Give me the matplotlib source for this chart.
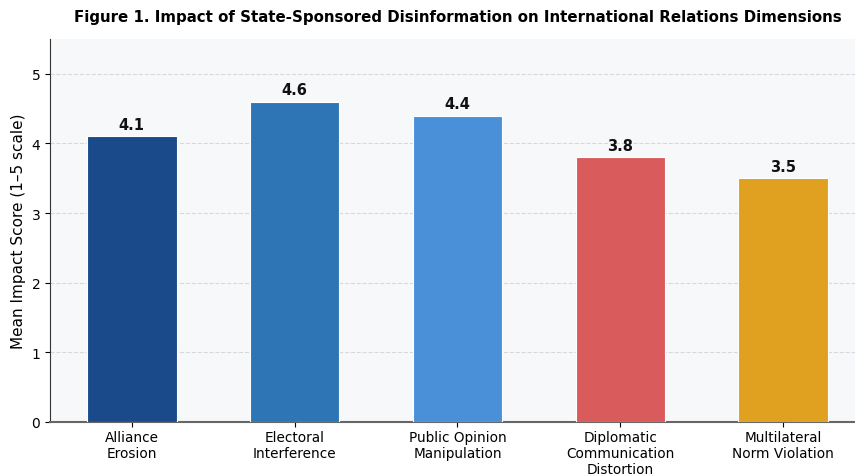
import matplotlib
matplotlib.use("Agg")
import matplotlib.pyplot as plt

categories = ["Alliance\nErosion", "Electoral\nInterference", "Public Opinion\nManipulation",
              "Diplomatic\nCommunication\nDistortion", "Multilateral\nNorm Violation"]
values = [4.1, 4.6, 4.4, 3.8, 3.5]
colors = ["#1a4a8a", "#2e75b6", "#4a90d9", "#d95b5b", "#e0a020"]
yticks = [0, 1, 2, 3, 4, 5]

W, H = 855, 477
fig = plt.figure(figsize=(W / 100, H / 100), dpi=100)
ax = fig.add_axes([50 / W, 1 - 423 / H, 815 / W, 383 / H])
ax.set_facecolor("#f7f8fa")

x = list(range(len(categories)))
bars = ax.bar(x, values, width=0.55, color=colors, edgecolor="white", linewidth=0.8, zorder=3)
for xi, v in zip(x, values):
    ax.text(xi, v + 0.06, f"{v:.1f}", ha="center", va="bottom", fontsize=10.5,
            fontweight="bold", color="#111111", zorder=4)

ax.set_xlim(-0.5025, 4.5025)
ax.set_ylim(0, 5.5)
ax.set_yticks(yticks)
ax.set_xticks(x)
ax.set_xticklabels(categories, fontsize=9.8, linespacing=1.17)
ax.tick_params(axis="x", pad=2.5)
ax.tick_params(axis="y", labelsize=10)
ax.set_ylabel("Mean Impact Score (1–5 scale)", fontsize=11)
ax.yaxis.grid(True, linestyle="--", color="#d5d8dc", linewidth=0.8, zorder=0)
ax.set_axisbelow(True)
for s in ["top", "right"]:
    ax.spines[s].set_visible(False)
ax.spines["left"].set_color("#333333")
ax.spines["bottom"].set_color("#666666")
ax.spines["bottom"].set_linewidth(1.5)
ax.set_title("Figure 1. Impact of State-Sponsored Disinformation on International Relations Dimensions",
             fontsize=10.8, fontweight="bold", pad=13)

fig.savefig("out.png", dpi=100)
